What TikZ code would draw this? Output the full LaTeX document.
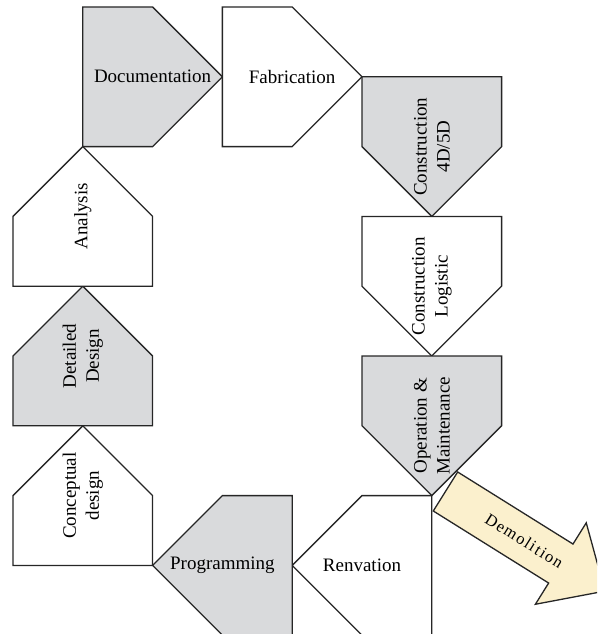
\documentclass[tikz,border=0pt]{standalone}
\usepackage{fontspec}
\setmainfont{Liberation Serif}
\definecolor{boxgrey}{RGB}{217,218,220}
\definecolor{demoyellow}{RGB}{251,240,205}
\begin{document}
\begin{tikzpicture}[x=69.8pt,y=-69.8pt,
  stage/.style={draw=black!85, line width=1.3pt, line join=miter},
  greystage/.style={stage, fill=boxgrey},
  whitestage/.style={stage, fill=white},
  lbl/.style={font=\fontsize{19}{23}\selectfont, align=center, inner sep=0pt},
  vlbl/.style={lbl, rotate=90}]
\useasboundingbox (-0.1862,-0.1003) rectangle (8.3668,8.9828);
\clip (-0.1862,-0.1003) rectangle (8.3668,8.9828);

% top row, pointing right
\draw[greystage]  (1,0) -- (2,0) -- (3,1) -- (2,2) -- (1,2) -- cycle;
\draw[whitestage] (3,0) -- (4,0) -- (5,1) -- (4,2) -- (3,2) -- cycle;
% right column, pointing down
\draw[greystage]  (5,1) -- (7,1) -- (7,2) -- (6,3) -- (5,2) -- cycle;
\draw[whitestage] (5,3) -- (7,3) -- (7,4) -- (6,5) -- (5,4) -- cycle;
\draw[greystage]  (5,5) -- (7,5) -- (7,6) -- (6,7) -- (5,6) -- cycle;
% bottom row, pointing left
\draw[whitestage] (6,7) -- (6,9) -- (5,9) -- (4,8) -- (5,7) -- cycle;
\draw[greystage]  (4,7) -- (4,9) -- (3,9) -- (2,8) -- (3,7) -- cycle;
% left column, pointing up
\draw[whitestage] (0,8) -- (2,8) -- (2,7) -- (1,6) -- (0,7) -- cycle;
\draw[greystage]  (0,6) -- (2,6) -- (2,5) -- (1,4) -- (0,5) -- cycle;
\draw[whitestage] (0,4) -- (2,4) -- (2,3) -- (1,2) -- (0,3) -- cycle;

\node[lbl]  (doc)  at (2,1) {Documentation};
\node[lbl]  (fab)  at (4,1) {Fabrication};
\node[vlbl] (con)  at (6,2) {Construction\\4D/5D};
\node[vlbl] (log)  at (6,4) {Construction\\Logistic};
\node[vlbl] (op)   at (6,6) {Operation \&\\Maintenance};
\node[lbl]  (ren)  at (5,8) {Renvation};
\node[lbl]  (prog) at (3,8) {Programming};
\node[vlbl] (conc) at (1,7) {Conceptual\\design};
\node[vlbl] (det)  at (1,5) {Detailed\\Design};
\node[vlbl] (ana)  at (1,3) {Analysis};

% demolition arrow
\begin{scope}[shift={(6.196,6.941)}, x=1pt, y=1pt, rotate=-32]
  \draw[stage, fill=demoyellow] (0,-23) -- (136,-23) -- (136,-48) -- (188,0)
        -- (136,48) -- (136,23) -- (0,23) -- cycle;
  \node[lbl, font=\fontsize{16.5}{20}\selectfont\addfontfeature{LetterSpace=9}, rotate=-32] (demo) at (93,0) {Demolition};
\end{scope}
\end{tikzpicture}
\end{document}
